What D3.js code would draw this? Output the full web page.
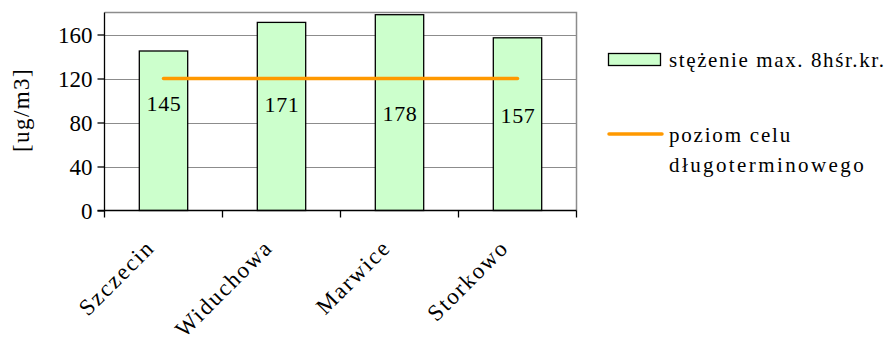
<!DOCTYPE html>
<html><head><meta charset="utf-8">
<script src="https://cdn.jsdelivr.net/npm/d3@7"></script>
<style>body{margin:0;background:#fff}svg{display:block}text{font-family:"Liberation Serif","Times New Roman",serif;fill:#000}</style>
</head><body>
<svg id="c" width="892" height="338"></svg>
<script>
const categories = ["Szczecin","Widuchowa","Marwice","Storkowo"];
const values = [145,171,178,157];
const target = [120,120,120,120];
const yTicks = [0,40,80,120,160];
const seriesNames = ["stężenie max. 8hśr.kr.", "poziom celu", "długoterminowego"];
const yTitle = "[ug/m3]";

const svg = d3.select("#c");
const L=104.5, R=576.5, T=12.5, B=210.5;
const x = d3.scaleBand().domain(categories).range([L,R]).paddingInner(0.59).paddingOuter(0.295);
const xb = d3.scaleBand().domain(categories).range([L,R]);
const y = d3.scaleLinear().domain([0,180]).range([B,T]);

// grid
svg.append("g").selectAll("line").data(yTicks.filter(d=>d>0)).join("line")
  .attr("x1",L).attr("x2",R).attr("y1",d=>Math.round(y(d))+0.5).attr("y2",d=>Math.round(y(d))+0.5)
  .attr("stroke","#8c8c8c").attr("stroke-width",1);
// border
svg.append("path").attr("d",`M${L},${T}H${R}V${B}`).attr("fill","none").attr("stroke","#8c8c8c").attr("stroke-width",1.5);

// bars
svg.append("g").selectAll("rect").data(values).join("rect")
  .attr("x",(d,i)=>x(categories[i])).attr("width",x.bandwidth())
  .attr("y",d=>y(d)).attr("height",d=>B-y(d))
  .attr("fill","#ccffcc").attr("stroke","#000").attr("stroke-width",1.3);

// line
svg.append("path").datum(target)
  .attr("d",d3.line().x((d,i)=>xb(categories[i])+xb.bandwidth()/2).y(d=>y(d)))
  .attr("fill","none").attr("stroke","#ff9900").attr("stroke-width",3.5).attr("stroke-linecap","round");

// value labels (pixel offsets as placed in the original)
const labelDy=[-2.7,-1.7,7.3,8.8];
svg.append("g").selectAll("text").data(values).join("text")
  .attr("x",(d,i)=>x(categories[i])+x.bandwidth()/2+0.5)
  .attr("y",(d,i)=>y(88)+labelDy[i])
  .attr("text-anchor","middle").attr("font-size",22).attr("letter-spacing",0.6).text(d=>d);

// y axis
const ya = svg.append("g").attr("transform",`translate(${L},0)`)
  .call(d3.axisLeft(y).tickValues(yTicks).tickSize(7).tickPadding(5).tickFormat(d3.format("d")));
ya.select(".domain").attr("stroke","#000").attr("stroke-width",1.3).attr("d",`M-7,${B}H0V${T}`);
ya.selectAll(".tick line").attr("stroke","#000").attr("stroke-width",1.3);
ya.selectAll("text").attr("font-size",23).attr("font-family","Liberation Serif").attr("dy","0.34em");

// x axis
const xa = svg.append("g").attr("transform",`translate(0,${B})`);
xa.append("line").attr("x1",L).attr("x2",R).attr("stroke","#000").attr("stroke-width",1.3);
xa.selectAll("line.t").data(d3.range(categories.length+1)).join("line").attr("class","t")
  .attr("x1",i=>L+i*xb.bandwidth()).attr("x2",i=>L+i*xb.bandwidth()).attr("y1",0).attr("y2",7)
  .attr("stroke","#000").attr("stroke-width",1.3);
svg.append("g").selectAll("text").data(categories).join("text")
  .attr("transform",d=>`translate(${xb(d)+xb.bandwidth()/2-7.5},${B+38.5}) rotate(-45)`)
  .attr("text-anchor","end").attr("font-size",23).attr("letter-spacing",1.8).text(d=>d);

// y title
svg.append("text").attr("transform","translate(29,110) rotate(-90)").attr("text-anchor","middle")
  .attr("font-size",23).attr("letter-spacing",1.4).text(yTitle);

// legend
svg.append("rect").attr("x",608.5).attr("y",53.5).attr("width",52).attr("height",12)
  .attr("fill","#ccffcc").attr("stroke","#000").attr("stroke-width",1.3);
svg.append("text").attr("x",669).attr("y",67).attr("font-size",21).attr("letter-spacing",1.6).text(seriesNames[0]);
svg.append("line").attr("x1",609).attr("x2",662).attr("y1",134).attr("y2",134)
  .attr("stroke","#ff9900").attr("stroke-width",3.5).attr("stroke-linecap","round");
svg.append("text").attr("x",669).attr("y",141.5).attr("font-size",21).attr("letter-spacing",1.8).text(seriesNames[1]);
svg.append("text").attr("x",669).attr("y",171.5).attr("font-size",21).attr("letter-spacing",2.4).text(seriesNames[2]);
</script>
</body></html>
